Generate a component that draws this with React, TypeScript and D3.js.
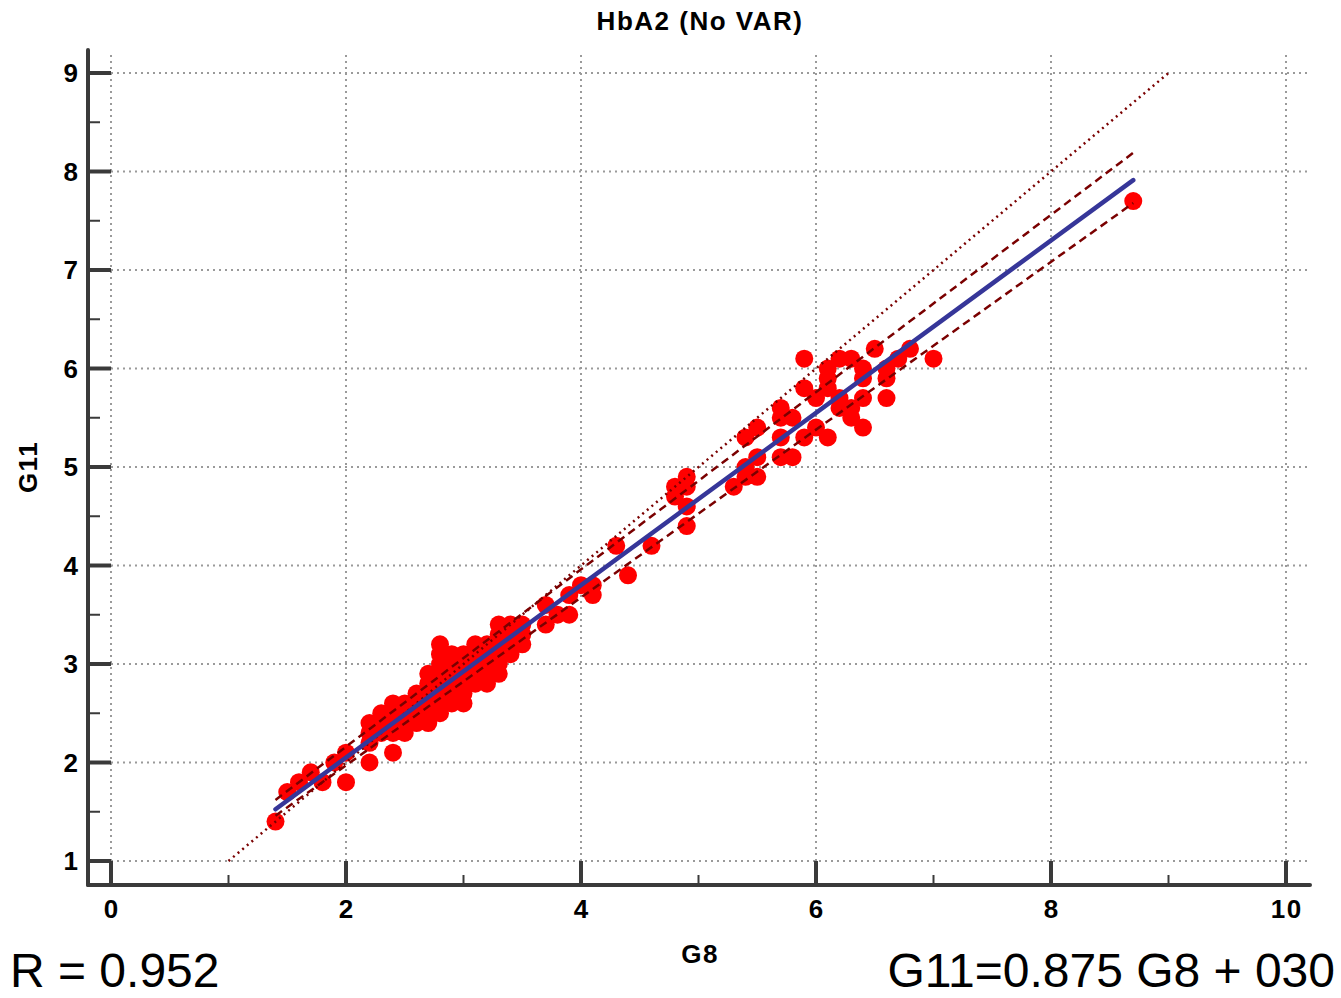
import React from "react";
import * as d3 from "d3";

const title = "HbA2 (No VAR)";
const xLabel = "G8";
const yLabel = "G11";
const rText = "R = 0.952";
const eqText = "G11=0.875 G8 + 030";

const xTicks = [0, 2, 4, 6, 8, 10];
const xMinor = [1, 3, 5, 7, 9];
const yTicks = [1, 2, 3, 4, 5, 6, 7, 8, 9];
const yMinor = [1.5, 2.5, 3.5, 4.5, 5.5, 6.5, 7.5, 8.5];

// [G8, G11]
const points: [number, number][] = [
  [1.4, 1.4], [1.5, 1.7], [1.6, 1.8], [1.7, 1.9], [1.8, 1.8], [1.9, 2.0], [2.0, 2.1], [2.0, 1.8],
  [2.2, 2.0], [2.4, 2.1],
  [2.2, 2.2], [2.2, 2.3], [2.2, 2.4], [2.3, 2.3], [2.3, 2.4], [2.3, 2.5], [2.4, 2.3], [2.4, 2.4],
  [2.4, 2.5], [2.4, 2.6], [2.5, 2.3], [2.5, 2.4], [2.5, 2.5], [2.5, 2.6],
  [2.6, 2.4], [2.6, 2.5], [2.6, 2.6], [2.6, 2.7],
  [2.7, 2.4], [2.7, 2.5], [2.7, 2.6], [2.7, 2.7], [2.7, 2.8], [2.7, 2.9],
  [2.8, 2.5], [2.8, 2.6], [2.8, 2.7], [2.8, 2.8], [2.8, 2.9], [2.8, 3.0], [2.8, 3.1], [2.8, 3.2],
  [2.9, 2.6], [2.9, 2.7], [2.9, 2.8], [2.9, 2.9], [2.9, 3.0], [2.9, 3.1],
  [3.0, 2.6], [3.0, 2.7], [3.0, 2.8], [3.0, 2.9], [3.0, 3.0], [3.0, 3.1],
  [3.1, 2.8], [3.1, 2.9], [3.1, 3.0], [3.1, 3.1], [3.1, 3.2],
  [3.2, 2.8], [3.2, 2.9], [3.2, 3.0], [3.2, 3.1], [3.2, 3.2],
  [3.3, 2.9], [3.3, 3.0], [3.3, 3.1], [3.3, 3.2], [3.3, 3.3], [3.3, 3.4],
  [3.4, 3.1], [3.4, 3.2], [3.4, 3.3], [3.4, 3.4],
  [3.5, 3.2], [3.5, 3.3], [3.5, 3.4],
  [3.7, 3.4], [3.7, 3.6], [3.8, 3.5], [3.9, 3.5], [3.9, 3.7], [4.0, 3.8], [4.1, 3.7], [4.1, 3.8],
  [4.3, 4.2], [4.4, 3.9], [4.6, 4.2],
  [4.8, 4.8], [4.8, 4.7], [4.9, 4.9], [4.9, 4.8], [4.9, 4.6], [4.9, 4.4],
  [5.3, 4.8], [5.4, 5.3], [5.4, 5.0], [5.4, 4.9], [5.5, 5.4], [5.5, 5.1], [5.5, 4.9],
  [5.7, 5.6], [5.7, 5.5], [5.7, 5.3], [5.7, 5.1], [5.8, 5.5], [5.8, 5.1],
  [5.9, 6.1], [5.9, 5.8], [5.9, 5.3], [6.0, 5.7], [6.0, 5.4],
  [6.1, 6.0], [6.1, 5.9], [6.1, 5.8], [6.1, 5.3], [6.2, 6.1], [6.2, 5.6], [6.2, 5.7],
  [6.3, 6.1], [6.3, 5.6], [6.3, 5.5], [6.4, 6.0], [6.4, 5.9], [6.4, 5.7], [6.4, 5.4],
  [6.5, 6.2], [6.6, 6.0], [6.6, 5.9], [6.6, 5.7], [6.7, 6.1], [6.8, 6.2], [7.0, 6.1],
  [8.7, 7.7],
];

const fitRange = [1.4, 8.7];
const identityRange = [1, 9];
const regression = { slope: 0.875, intercept: 0.3 };
const ciUpper = { slope: 0.9, intercept: 0.36 };
const ciLower = { slope: 0.852, intercept: 0.267 };

export default function App() {
  const W = 1341;
  const H = 998;
  const x = d3.scaleLinear().domain([0, 10]).range([111, 1286]);
  const y = d3.scaleLinear().domain([1, 9]).range([861, 73]);
  const axisX = 88;
  const axisY = 885;
  const gridTop = 55;
  const gridRight = 1307;
  const axisColor = "#3a3a3a";
  const font = "'Liberation Sans', Arial, sans-serif";

  const seg = (p: { slope: number; intercept: number }, r: number[]) => {
    const gen = d3
      .line<[number, number]>()
      .x((d) => x(d[0]))
      .y((d) => y(d[1]));
    return gen(r.map((v) => [v, p.slope * v + p.intercept] as [number, number])) || "";
  };

  const boldSize = 26;
  const ls = 1.5;

  return (
    <svg
      width={W}
      height={H}
      style={{ position: "absolute", left: 0, top: 0, background: "#fff" }}
      fontFamily={font}
    >
      {/* grid */}
      <g stroke="#9a9a9a" strokeWidth={2} strokeDasharray="2,4">
        {xTicks.map((t) => (
          <line key={"gx" + t} x1={x(t)} x2={x(t)} y1={gridTop} y2={y(1)} />
        ))}
        {yTicks.map((t) => (
          <line key={"gy" + t} x1={x(0)} x2={gridRight} y1={y(t)} y2={y(t)} />
        ))}
      </g>

      {/* points */}
      <g fill="#ff0000">
        {points.map((p, i) => (
          <circle key={i} cx={x(p[0])} cy={y(p[1])} r={9} />
        ))}
      </g>

      {/* identity line */}
      <path
        d={seg({ slope: 1, intercept: 0 }, identityRange)}
        stroke="#7a0000"
        strokeWidth={2.5}
        strokeDasharray="2,4"
        fill="none"
      />
      {/* CI lines */}
      <path d={seg(ciUpper, fitRange)} stroke="#7a0000" strokeWidth={2.5} strokeDasharray="8,5" fill="none" />
      <path d={seg(ciLower, fitRange)} stroke="#7a0000" strokeWidth={2.5} strokeDasharray="8,5" fill="none" />
      {/* regression */}
      <path d={seg(regression, fitRange)} stroke="#363699" strokeWidth={4.5} strokeLinecap="round" fill="none" />

      {/* axes */}
      <g stroke={axisColor} strokeLinecap="round">
        <line x1={axisX} x2={axisX} y1={50} y2={axisY} strokeWidth={4} />
        <line x1={axisX} x2={1310} y1={axisY} y2={axisY} strokeWidth={4} />
        {xTicks.map((t) => (
          <line key={"tx" + t} x1={x(t)} x2={x(t)} y1={axisY} y2={y(1)} strokeWidth={4} strokeLinecap="butt" />
        ))}
        {xMinor.map((t) => (
          <line key={"mx" + t} x1={x(t)} x2={x(t)} y1={axisY} y2={axisY - 10} strokeWidth={2} strokeLinecap="butt" />
        ))}
        {yTicks.map((t) => (
          <line key={"ty" + t} x1={axisX} x2={x(0)} y1={y(t)} y2={y(t)} strokeWidth={4} strokeLinecap="butt" />
        ))}
        {yMinor.map((t) => (
          <line key={"my" + t} x1={axisX} x2={axisX + 12} y1={y(t)} y2={y(t)} strokeWidth={2} strokeLinecap="butt" />
        ))}
      </g>

      {/* tick labels */}
      <g fontWeight="bold" fontSize={boldSize} fill="#000" letterSpacing={ls}>
        {xTicks.map((t) => (
          <text key={"lx" + t} x={x(t) + ls / 2} y={918} textAnchor="middle">
            {t}
          </text>
        ))}
        {yTicks.map((t) => (
          <text key={"ly" + t} x={79.5} y={y(t) + 9} textAnchor="end">
            {t}
          </text>
        ))}
      </g>

      {/* titles */}
      <g fontWeight="bold" fontSize={boldSize} letterSpacing={ls}>
        <text x={700} y={30} textAnchor="middle">
          {title}
        </text>
        <text x={700} y={963} textAnchor="middle">
          {xLabel}
        </text>
        <text transform={`translate(37,467) rotate(-90)`} textAnchor="middle">
          {yLabel}
        </text>
      </g>

      <text x={10} y={987} fontSize={48}>
        {rText}
      </text>
      <text x={1335} y={987} fontSize={48} textAnchor="end">
        {eqText}
      </text>
    </svg>
  );
}
